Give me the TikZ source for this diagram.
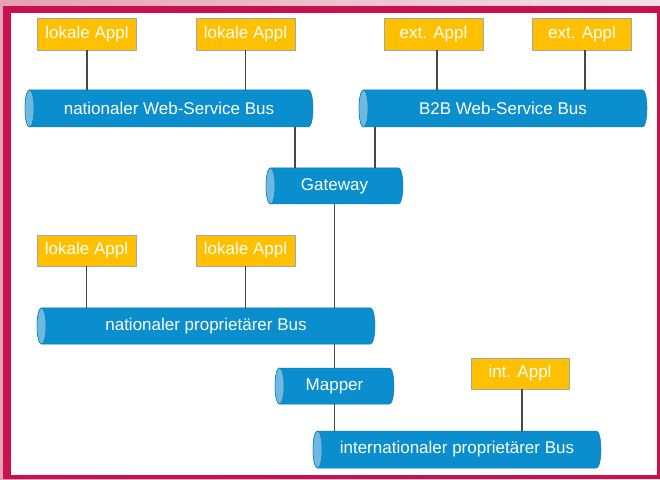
\documentclass[tikz,border=0pt]{standalone}
\usepackage{fontspec}
\newfontfamily\labelfont{Liberation Sans}
\usetikzlibrary{calc}

\definecolor{pinkbg}{HTML}{E6A0B3}
\definecolor{pinkbgr}{HTML}{F4E0E6}
\definecolor{framered}{HTML}{C9114F}
\definecolor{busblue}{HTML}{0A8ECD}
\definecolor{busedge}{HTML}{0A7DB5}
\definecolor{busend}{HTML}{6DB9E2}
\definecolor{applyellow}{HTML}{FFC000}
\definecolor{applborder}{HTML}{A6A6A6}
\definecolor{linkgray}{HTML}{474747}

\tikzset{
  appl/.style={rectangle, fill=applyellow, draw=applborder, line width=0.8pt,
    minimum width=99pt, minimum height=32pt, inner sep=0pt,
    text=white, font=\labelfont\fontsize{17}{20}\selectfont},
  bustext/.style={rectangle, inner sep=0pt, text=white,
    font=\labelfont\fontsize{17}{20}\selectfont},
  link/.style={draw=linkgray, line width=1.6pt},
}

% end-ellipse x radius of the bus cylinders
\def\erx{4.5}

% \bus{name}{cx}{cy}{width}{height}{text}: horizontal cylinder with a label node
\newcommand\bus[6]{%
  \pgfmathsetmacro\bl{#2-#4/2}\pgfmathsetmacro\br{#2+#4/2}%
  \pgfmathsetmacro\bt{#3+#5/2}\pgfmathsetmacro\bb{#3-#5/2}%
  \pgfmathsetmacro\bh{#5/2}%
  \filldraw[fill=busblue, draw=busedge, line width=0.5pt]
    (\bl+\erx,\bt) -- (\br-\erx,\bt)
    arc[start angle=90, end angle=-90, x radius=\erx, y radius=\bh]
    -- (\bl+\erx,\bb)
    arc[start angle=270, end angle=90, x radius=\erx, y radius=\bh] -- cycle;
  \filldraw[fill=busend, draw=busedge, line width=0.5pt]
    (\bl+\erx,#3) ellipse[x radius=\erx, y radius=\bh];
  \node[bustext, minimum width=#4, minimum height=#5] (#1) at (#2,#3) {#6};
}

\begin{document}
\begin{tikzpicture}[x=1pt, y=1pt]
  \useasboundingbox (0,0) rectangle (660,479);

  % page frame
  \shade[left color=pinkbg, right color=pinkbgr] (0,0) rectangle (660,479);
  \fill[framered] (3,0) rectangle (660,473);
  \fill[white] (11,4) rectangle (657,466);

  % buses and adapters
  \bus{nwb}{169}{370.5}{288}{37}{nationaler Web-Service Bus}
  \bus{bwb}{503}{370.5}{288}{37}{B2B Web-Service Bus}
  \bus{gw}{334.5}{293}{137}{36}{Gateway}
  \bus{npb}{206}{153}{338}{36}{nationaler proprietärer Bus}
  \bus{map}{334.5}{93}{119}{36}{Mapper}
  \bus{ipb}{457}{29.5}{288}{37}{internationaler proprietärer Bus}

  % applications
  \node[appl] (la1) at (87,445) {lokale Appl};
  \node[appl] (la2) at (245.5,445) {lokale Appl};
  \node[appl] (ea1) at (433.5,445) {ext. Appl};
  \node[appl] (ea2) at (582,445) {ext. Appl};
  \node[appl, minimum height=31pt] (la3) at (86.5,228.5) {lokale Appl};
  \node[appl, minimum height=31pt] (la4) at (245.5,228.5) {lokale Appl};
  \node[appl, minimum width=98pt, minimum height=31pt] (ia) at (520,105.5) {int. Appl};

  % application links
  \draw[link] (la1.south) -- (la1.south |- nwb.north);
  \draw[link] (la2.south) -- (la2.south |- nwb.north);
  \draw[link] ([xshift=3.5pt]ea1.south) -- ([xshift=3.5pt]ea1.south |- bwb.north);
  \draw[link] ([xshift=3pt]ea2.south) -- ([xshift=3pt]ea2.south |- bwb.north);
  \draw[link] (la3.south) -- (la3.south |- npb.north);
  \draw[link] (la4.south) -- (la4.south |- npb.north);
  \draw[link] ([xshift=2pt]ia.south) -- ([xshift=2pt]ia.south |- ipb.north);

  % bus interconnections
  \draw[link] ([xshift=-39.5pt]gw.north) -- ([xshift=-39.5pt]gw.north |- nwb.south);
  \draw[link] ([xshift=40.5pt]gw.north) -- ([xshift=40.5pt]gw.north |- bwb.south);
  \draw[link] (gw.south) -- (gw.south |- npb.north);
  \draw[link] (map.north) -- (map.north |- npb.south);
  \draw[link] (map.south) -- (map.south |- ipb.north);
\end{tikzpicture}
\end{document}
